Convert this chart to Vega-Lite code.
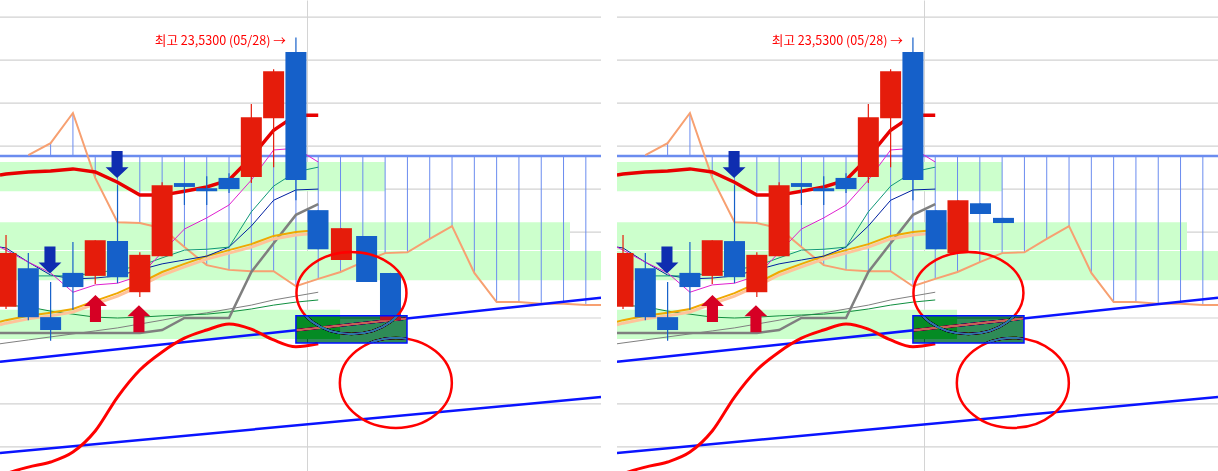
{
"$schema":"https://vega.github.io/schema/vega-lite/v6.json",
"padding":0,
"background":"#ffffff",
"config":{"view":{"stroke":null},"scale":{"continuousPadding":0},"axis":{"domain":false,"ticks":false,"labels":false,"minExtent":0,"maxExtent":0,"gridColor":"#d4d4d4","gridWidth":1}},
"data":{"values":[
{"kind":"g","i":-0.27,"i2":26.68,"v":1,"panels":["L","R"]},
{"kind":"g","i":-0.27,"i2":26.68,"v":2,"panels":["L","R"]},
{"kind":"g","i":-0.27,"i2":26.68,"v":3,"panels":["L","R"]},
{"kind":"g","i":-0.27,"i2":26.68,"v":4,"panels":["L","R"]},
{"kind":"g","i":-0.27,"i2":26.68,"v":5,"panels":["L","R"]},
{"kind":"g","i":-0.27,"i2":26.68,"v":6,"panels":["L","R"]},
{"kind":"g","i":-0.27,"i2":26.68,"v":7,"panels":["L","R"]},
{"kind":"g","i":-0.27,"i2":26.68,"v":8,"panels":["L","R"]},
{"kind":"g","i":-0.27,"i2":26.68,"v":9,"panels":["L","R"]},
{"kind":"g","i":-0.27,"i2":26.68,"v":10,"panels":["L","R"]},
{"kind":"g","i":-0.27,"i2":26.68,"v":11,"panels":["L","R"]},
{"kind":"b","i":-0.27,"i2":17.0,"v":7.63,"v2":6.95,"panels":["L","R"]},
{"kind":"b","i":-0.27,"i2":25.29,"v":6.23,"v2":5.58,"panels":["L","R"]},
{"kind":"b","i":-0.27,"i2":26.68,"v":5.56,"v2":4.88,"panels":["L","R"]},
{"kind":"b","i":-0.27,"i2":14.98,"v":4.19,"v2":3.51,"panels":["L","R"]},
{"kind":"z","i":13.0,"i2":17.98,"v":4.05,"v2":3.42,"panels":["L","R"]},
{"kind":"t","i":-0.27,"up":2.98,"lo":0.86,"hl":7.77,"panels":["L","R"]},
{"kind":"t","i":26.68,"up":4.47,"lo":2.16,"hl":7.77,"panels":["L","R"]},
{"kind":"o","i":1,"org":7.79,"panels":["L","R"]},
{"kind":"o","i":2,"org":8.07,"panels":["L","R"]},
{"kind":"o","i":3,"org":8.77,"panels":["L","R"]},
{"kind":"o","i":4,"org":7.26,"panels":["L","R"]},
{"kind":"o","i":5,"org":6.23,"panels":["L","R"]},
{"kind":"o","i":6,"org":6.21,"panels":["L","R"]},
{"kind":"o","i":7,"org":6.09,"panels":["L","R"]},
{"kind":"o","i":8,"org":5.65,"panels":["L","R"]},
{"kind":"o","i":9,"org":5.23,"panels":["L","R"]},
{"kind":"o","i":10,"org":5.12,"panels":["L","R"]},
{"kind":"o","i":11,"org":5.09,"panels":["L","R"]},
{"kind":"o","i":12,"org":5.09,"panels":["L","R"]},
{"kind":"o","i":13,"org":4.74,"panels":["L","R"]},
{"kind":"o","i":14,"org":4.91,"panels":["L","R"]},
{"kind":"o","i":15,"org":5.07,"panels":["L","R"]},
{"kind":"o","i":16,"org":5.30,"panels":["L","R"]},
{"kind":"o","i":17,"org":5.51,"panels":["L","R"]},
{"kind":"o","i":18,"org":5.53,"panels":["L","R"]},
{"kind":"o","i":19,"org":5.84,"panels":["L","R"]},
{"kind":"o","i":20,"org":6.14,"panels":["L","R"]},
{"kind":"o","i":21,"org":5.05,"panels":["L","R"]},
{"kind":"o","i":22,"org":4.37,"panels":["L","R"]},
{"kind":"o","i":23,"org":4.37,"panels":["L","R"]},
{"kind":"o","i":24,"org":4.33,"panels":["L","R"]},
{"kind":"o","i":25,"org":4.33,"panels":["L","R"]},
{"kind":"o","i":26,"org":4.30,"panels":["L","R"]},
{"kind":"o","i":26.68,"org":4.30,"panels":["L","R"]},
{"kind":"m","i":-0.27,"red":7.33,"mag":5.65,"nav":5.65,"tea":null,"grn":4.30,"gy1":3.40,"gy2":3.65,"yel":3.91,"cur":0.30,"panels":["L","R"]},
{"kind":"m","i":0,"red":7.35,"mag":5.58,"nav":5.63,"tea":null,"grn":4.30,"gy1":3.42,"gy2":3.65,"yel":3.95,"cur":0.37,"panels":["L","R"]},
{"kind":"m","i":1,"red":7.40,"mag":5.30,"nav":5.30,"tea":4.98,"grn":4.26,"gy1":3.49,"gy2":3.65,"yel":4.05,"cur":0.53,"panels":["L","R"]},
{"kind":"m","i":2,"red":7.42,"mag":5.05,"nav":5.00,"tea":4.98,"grn":4.16,"gy1":3.56,"gy2":3.65,"yel":4.12,"cur":0.65,"panels":["L","R"]},
{"kind":"m","i":3,"red":7.47,"mag":4.60,"nav":4.91,"tea":4.98,"grn":4.09,"gy1":3.63,"gy2":3.65,"yel":4.21,"cur":0.88,"panels":["L","R"]},
{"kind":"m","i":4,"red":7.40,"mag":4.77,"nav":4.93,"tea":5.05,"grn":4.02,"gy1":3.70,"gy2":3.65,"yel":4.40,"cur":1.37,"panels":["L","R"]},
{"kind":"m","i":5,"red":7.16,"mag":4.81,"nav":4.98,"tea":5.12,"grn":4.00,"gy1":3.77,"gy2":3.65,"yel":4.58,"cur":2.16,"panels":["L","R"]},
{"kind":"m","i":6,"red":6.86,"mag":4.98,"nav":5.12,"tea":5.21,"grn":4.02,"gy1":3.86,"gy2":3.65,"yel":4.81,"cur":2.79,"panels":["L","R"]},
{"kind":"m","i":7,"red":6.86,"mag":5.53,"nav":5.26,"tea":5.40,"grn":4.05,"gy1":3.95,"gy2":3.72,"yel":5.07,"cur":3.21,"panels":["L","R"]},
{"kind":"m","i":8,"red":6.95,"mag":6.07,"nav":5.35,"tea":5.58,"grn":4.07,"gy1":4.05,"gy2":4.00,"yel":5.26,"cur":3.53,"panels":["L","R"]},
{"kind":"m","i":9,"red":7.05,"mag":6.33,"nav":5.44,"tea":5.60,"grn":4.09,"gy1":4.12,"gy2":4.00,"yel":5.44,"cur":3.72,"panels":["L","R"]},
{"kind":"m","i":10,"red":7.21,"mag":6.63,"nav":5.65,"tea":5.65,"grn":4.14,"gy1":4.21,"gy2":4.00,"yel":5.58,"cur":3.86,"panels":["L","R"]},
{"kind":"m","i":11,"red":7.74,"mag":7.21,"nav":6.14,"tea":6.47,"grn":4.21,"gy1":4.30,"gy2":5.07,"yel":5.72,"cur":3.74,"panels":["L","R"]},
{"kind":"m","i":12,"red":8.37,"mag":7.91,"nav":6.74,"tea":7.07,"grn":4.30,"gy1":4.42,"gy2":5.74,"yel":5.91,"cur":3.49,"panels":["L","R"]},
{"kind":"m","i":13,"red":8.72,"mag":7.95,"nav":6.98,"tea":7.40,"grn":4.37,"gy1":4.51,"gy2":6.40,"yel":6.00,"cur":3.33,"panels":["L","R"]},
{"kind":"m","i":14,"red":8.72,"mag":7.63,"nav":7.00,"tea":7.51,"grn":4.42,"gy1":4.60,"gy2":6.65,"yel":6.05,"cur":3.40,"panels":["L","R"]},
{"kind":"c","i":0,"o":4.26,"c":5.51,"h":5.93,"l":4.21,"d":"up","panels":["L","R"]},
{"kind":"c","i":1,"o":5.16,"c":4.02,"h":5.51,"l":3.95,"d":"down","panels":["L","R"]},
{"kind":"c","i":2,"o":4.02,"c":3.72,"h":4.84,"l":3.47,"d":"down","panels":["L","R"]},
{"kind":"c","i":3,"o":5.05,"c":4.72,"h":5.77,"l":4.19,"d":"down","panels":["L","R"]},
{"kind":"c","i":4,"o":4.98,"c":5.81,"h":5.81,"l":4.79,"d":"up","panels":["L","R"]},
{"kind":"c","i":5,"o":5.79,"c":4.95,"h":7.09,"l":4.81,"d":"down","panels":["L","R"]},
{"kind":"c","i":6,"o":4.60,"c":5.47,"h":5.53,"l":4.49,"d":"up","panels":["L","R"]},
{"kind":"c","i":7,"o":5.44,"c":7.09,"h":7.16,"l":5.44,"d":"up","panels":["L","R"]},
{"kind":"c","i":8,"o":7.14,"c":7.05,"h":7.14,"l":6.63,"d":"down","panels":["L","R"]},
{"kind":"c","i":9,"o":7.02,"c":6.95,"h":7.30,"l":6.63,"d":"down","panels":["L","R"]},
{"kind":"c","i":10,"o":7.26,"c":7.00,"h":7.37,"l":6.91,"d":"down","panels":["L","R"]},
{"kind":"c","i":11,"o":7.28,"c":8.67,"h":8.98,"l":7.14,"d":"up","panels":["L","R"]},
{"kind":"c","i":12,"o":8.65,"c":9.74,"h":9.79,"l":7.51,"d":"up","panels":["L","R"]},
{"kind":"c","i":13,"o":10.19,"c":7.21,"h":10.53,"l":6.74,"d":"down","panels":["L","R"]},
{"kind":"c","i":13.99,"o":6.51,"c":5.60,"h":6.51,"l":5.60,"d":"down","panels":["L"]},
{"kind":"c","i":15.04,"o":5.35,"c":6.09,"h":6.09,"l":5.35,"d":"up","panels":["L"]},
{"kind":"c","i":16.17,"o":5.91,"c":4.84,"h":5.91,"l":4.84,"d":"down","panels":["L"]},
{"kind":"c","i":17.24,"o":5.05,"c":3.95,"h":5.05,"l":3.95,"d":"down","panels":["L"]},
{"kind":"c","i":14.04,"o":6.51,"c":5.60,"h":6.51,"l":5.60,"d":"down","panels":["R"]},
{"kind":"c","i":15.02,"o":5.51,"c":6.74,"h":6.74,"l":5.51,"d":"up","panels":["R"]},
{"kind":"c","i":16.03,"o":6.67,"c":6.42,"h":6.67,"l":6.42,"d":"down","panels":["R"]},
{"kind":"c","i":17.06,"o":6.33,"c":6.21,"h":6.33,"l":6.21,"d":"down","panels":["R"]},
{"kind":"ad","i":1.97,"v":5.35,"panels":["L","R"]},
{"kind":"ad","i":4.98,"v":7.57,"panels":["L","R"]},
{"kind":"au","i":4.01,"v":4.22,"panels":["L","R"]},
{"kind":"au","i":5.96,"v":3.98,"panels":["L","R"]},
{"kind":"eu","i":15.49,"v":4.58,"panels":["L","R"]},
{"kind":"ed","i":17.48,"v":2.49,"panels":["L","R"]},
{"kind":"x","i":12.55,"v":10.44,"lab":"최고 23,5300 (05/28) →","panels":["L","R"]}
]},
"transform":[{"flatten":["panels"]}],
"facet":{"column":{"field":"panels","type":"nominal","header":null}},
"spacing":16,
"spec":{
"width":601,"height":471,
"encoding":{"x":{"field":"i","type":"quantitative","scale":{"domain":[-0.27,26.68],"nice":false,"zero":false,"padding":0},"axis":{"values":[13.48],"title":null,"grid":true}}},
"layer":[
{"transform":[{"filter":"datum.kind==='g'"}],"mark":{"type":"rule","color":"#d2d2d2","strokeWidth":1.2,"opacity":1,"clip":true},
 "encoding":{"x2":{"field":"i2"},"y":{"field":"v","type":"quantitative","scale":{"domain":[0.44,11.4],"nice":false,"zero":false,"padding":0},"axis":null}}},
{"transform":[{"filter":"datum.kind==='b'"}],"mark":{"type":"rect","color":"#ccffcc","clip":true},
 "encoding":{"x2":{"field":"i2"},"y":{"field":"v","type":"quantitative","scale":{"domain":[0.44,11.4],"nice":false,"zero":false,"padding":0},"axis":null},"y2":{"field":"v2"}}},
{"transform":[{"filter":"datum.kind==='o' && datum.i<26.5"}],"mark":{"type":"rule","color":"#6b8cef","strokeWidth":1,"clip":true},
 "encoding":{"y":{"field":"org","type":"quantitative","scale":{"domain":[0.44,11.4],"nice":false,"zero":false},"axis":null},"y2":{"datum":7.77}}},
{"transform":[{"filter":"datum.kind==='t'"}],"mark":{"type":"line","color":"#6b8cef","strokeWidth":2.5,"clip":true},
 "encoding":{"y":{"field":"hl","type":"quantitative","scale":{"domain":[0.44,11.4],"nice":false,"zero":false},"axis":null}}},
{"transform":[{"filter":"datum.kind==='o'"}],"mark":{"type":"line","color":"#f7a071","strokeWidth":2,"clip":true},
 "encoding":{"y":{"field":"org","type":"quantitative","scale":{"domain":[0.44,11.4],"nice":false,"zero":false},"axis":null}}},
{"transform":[{"filter":"datum.kind==='t'"}],"mark":{"type":"line","color":"#0a14ff","strokeWidth":2.5,"clip":true},
 "encoding":{"y":{"field":"up","type":"quantitative","scale":{"domain":[0.44,11.4],"nice":false,"zero":false},"axis":null}}},
{"transform":[{"filter":"datum.kind==='t'"}],"mark":{"type":"line","color":"#0a14ff","strokeWidth":2.5,"clip":true},
 "encoding":{"y":{"field":"lo","type":"quantitative","scale":{"domain":[0.44,11.4],"nice":false,"zero":false},"axis":null}}},
{"transform":[{"filter":"datum.kind==='m'"}],"mark":{"type":"line","color":"#ff0000","strokeWidth":3,"interpolate":"monotone","clip":true},
 "encoding":{"y":{"field":"cur","type":"quantitative","scale":{"domain":[0.44,11.4],"nice":false,"zero":false},"axis":null}}},
{"transform":[{"filter":"datum.kind==='m'"}],"mark":{"type":"line","color":"#808080","strokeWidth":1,"clip":true},
 "encoding":{"y":{"field":"gy1","type":"quantitative","scale":{"domain":[0.44,11.4],"nice":false,"zero":false},"axis":null}}},
{"transform":[{"filter":"datum.kind==='m'"}],"mark":{"type":"line","color":"#0f8f3f","strokeWidth":1,"clip":true},
 "encoding":{"y":{"field":"grn","type":"quantitative","scale":{"domain":[0.44,11.4],"nice":false,"zero":false},"axis":null}}},
{"transform":[{"filter":"datum.kind==='m'"}],"mark":{"type":"line","color":"#7f7f7f","strokeWidth":2.5,"clip":true},
 "encoding":{"y":{"field":"gy2","type":"quantitative","scale":{"domain":[0.44,11.4],"nice":false,"zero":false},"axis":null}}},
{"transform":[{"filter":"datum.kind==='m'"}],"mark":{"type":"line","color":"#ffc39a","strokeWidth":3,"yOffset":3,"clip":true},
 "encoding":{"y":{"field":"yel","type":"quantitative","scale":{"domain":[0.44,11.4],"nice":false,"zero":false},"axis":null}}},
{"transform":[{"filter":"datum.kind==='m'"}],"mark":{"type":"line","color":"#f0a800","strokeWidth":2,"clip":true},
 "encoding":{"y":{"field":"yel","type":"quantitative","scale":{"domain":[0.44,11.4],"nice":false,"zero":false},"axis":null}}},
{"transform":[{"filter":"datum.kind==='m'"}],"mark":{"type":"line","color":"#0020a0","strokeWidth":1,"clip":true},
 "encoding":{"y":{"field":"nav","type":"quantitative","scale":{"domain":[0.44,11.4],"nice":false,"zero":false},"axis":null}}},
{"transform":[{"filter":"datum.kind==='m' && datum.tea!=null"}],"mark":{"type":"line","color":"#109878","strokeWidth":1,"clip":true},
 "encoding":{"y":{"field":"tea","type":"quantitative","scale":{"domain":[0.44,11.4],"nice":false,"zero":false},"axis":null}}},
{"transform":[{"filter":"datum.kind==='m'"}],"mark":{"type":"line","color":"#e020d0","strokeWidth":1,"clip":true},
 "encoding":{"y":{"field":"mag","type":"quantitative","scale":{"domain":[0.44,11.4],"nice":false,"zero":false},"axis":null}}},
{"transform":[{"filter":"datum.kind==='m'"}],"mark":{"type":"line","color":"#e80000","strokeWidth":3.5,"clip":true},
 "encoding":{"y":{"field":"red","type":"quantitative","scale":{"domain":[0.44,11.4],"nice":false,"zero":false},"axis":null}}},
{"transform":[{"filter":"datum.kind==='c'"}],"mark":{"type":"rule","strokeWidth":1.2,"clip":true},
 "encoding":{"y":{"field":"h","type":"quantitative","scale":{"domain":[0.44,11.4],"nice":false,"zero":false},"axis":null},"y2":{"field":"l"},
  "color":{"field":"d","type":"nominal","scale":{"domain":["up","down"],"range":["#e51c0b","#1560c9"]},"legend":null}}},
{"transform":[{"filter":"datum.kind==='c'"}],"mark":{"type":"bar","size":21,"opacity":1,"clip":true},
 "encoding":{"y":{"field":"o","type":"quantitative","scale":{"domain":[0.44,11.4],"nice":false,"zero":false},"axis":null},"y2":{"field":"c"},
  "color":{"field":"d","type":"nominal","scale":{"domain":["up","down"],"range":["#e51c0b","#1560c9"]},"legend":null}}},
{"transform":[{"filter":"datum.kind==='ad'"}],"mark":{"type":"point","filled":true,"opacity":1,"color":"#0f2db0","size":729,"strokeWidth":0,"shape":"M -0.41 -1 L 0.41 -1 L 0.41 0.19 L 0.85 0.19 L 0 1 L -0.85 0.19 L -0.41 0.19 Z"},
 "encoding":{"y":{"field":"v","type":"quantitative","scale":{"domain":[0.44,11.4],"nice":false,"zero":false},"axis":null}}},
{"transform":[{"filter":"datum.kind==='au'"}],"mark":{"type":"point","filled":true,"opacity":1,"color":"#d60024","size":729,"strokeWidth":0,"shape":"M -0.41 1 L 0.41 1 L 0.41 -0.19 L 0.85 -0.19 L 0 -1 L -0.85 -0.19 L -0.41 -0.19 Z"},
 "encoding":{"y":{"field":"v","type":"quantitative","scale":{"domain":[0.44,11.4],"nice":false,"zero":false},"axis":null}}},
{"transform":[{"filter":"datum.kind==='x'"}],"mark":{"type":"text","align":"right","baseline":"middle","font":"Noto Sans CJK KR","fontSize":12.6,"color":"#ff0000"},
 "encoding":{"y":{"field":"v","type":"quantitative","scale":{"domain":[0.44,11.4],"nice":false,"zero":false},"axis":null},"text":{"field":"lab"}}},
{"transform":[{"filter":"datum.kind==='eu'"}],"mark":{"type":"point","filled":false,"opacity":1,"color":"#ff0000","size":12544,"strokeWidth":2.5,"shape":"M 0.982 0 C 0.982 0.404 0.542 0.732 0 0.732 C -0.542 0.732 -0.982 0.404 -0.982 0 C -0.982 -0.404 -0.542 -0.732 0 -0.732 C 0.542 -0.732 0.982 -0.404 0.982 0 Z"},
 "encoding":{"y":{"field":"v","type":"quantitative","scale":{"domain":[0.44,11.4],"nice":false,"zero":false},"axis":null}}},
{"transform":[{"filter":"datum.kind==='ed'"}],"mark":{"type":"point","filled":false,"opacity":1,"color":"#ff0000","size":12544,"strokeWidth":2.5,"shape":"M 1 0 C 1 0.444 0.552 0.804 0 0.804 C -0.552 0.804 -1 0.444 -1 0 C -1 -0.444 -0.552 -0.804 0 -0.804 C 0.552 -0.804 1 -0.444 1 0 Z"},
 "encoding":{"y":{"field":"v","type":"quantitative","scale":{"domain":[0.44,11.4],"nice":false,"zero":false},"axis":null}}},
{"transform":[{"filter":"datum.kind==='z'"}],"mark":{"type":"rect","fill":"#d174a8","blend":"difference"},
 "encoding":{"x2":{"field":"i2"},"y":{"field":"v","type":"quantitative","scale":{"domain":[0.44,11.4],"nice":false,"zero":false},"axis":null},"y2":{"field":"v2"}}},
{"transform":[{"filter":"datum.kind==='z'"}],"mark":{"type":"rect","fill":null,"fillOpacity":0,"stroke":"#0010ff","strokeWidth":1.5},
 "encoding":{"x2":{"field":"i2"},"y":{"field":"v","type":"quantitative","scale":{"domain":[0.44,11.4],"nice":false,"zero":false},"axis":null},"y2":{"field":"v2"}}}
]
}
}
